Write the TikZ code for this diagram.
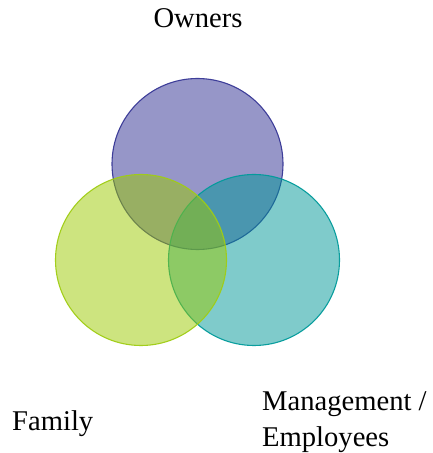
\documentclass[tikz,border=0pt]{standalone}
\usepackage{fontspec}
\setmainfont{Liberation Serif}
\definecolor{ownfill}{RGB}{45,45,145}
\definecolor{ownline}{RGB}{55,55,150}
\definecolor{famfill}{RGB}{155,201,0}
\definecolor{famline}{RGB}{160,205,20}
\definecolor{mgtfill}{RGB}{0,151,151}
\definecolor{mgtline}{RGB}{0,155,155}
\tikzset{
  venn/.style={circle, minimum size=171pt, inner sep=0pt, line width=1.1pt, fill opacity=0.5, draw opacity=0.95},
  lbl/.style={font=\fontsize{28.6}{34}\selectfont, inner sep=0pt}
}
\begin{document}
\begin{tikzpicture}[x=1pt,y=1pt]
\useasboundingbox (0,0) rectangle (432,453);
\node[venn, draw=ownline, fill=ownfill] (own) at (197.5,289) {};
\node[venn, draw=mgtline, fill=mgtfill] (mgt) at (254,193) {};
\node[venn, draw=famline, fill=famfill] (fam) at (141,193) {};
\node[lbl, anchor=base] (towners) at (198,425) {Owners};
\node[lbl, anchor=base west] (tfamily) at (12,23) {Family};
\node[lbl, anchor=base west] (tmgt) at (262,42) {Management /};
\node[lbl, anchor=base west] (temp) at (262,6) {Employees};
\end{tikzpicture}
\end{document}
